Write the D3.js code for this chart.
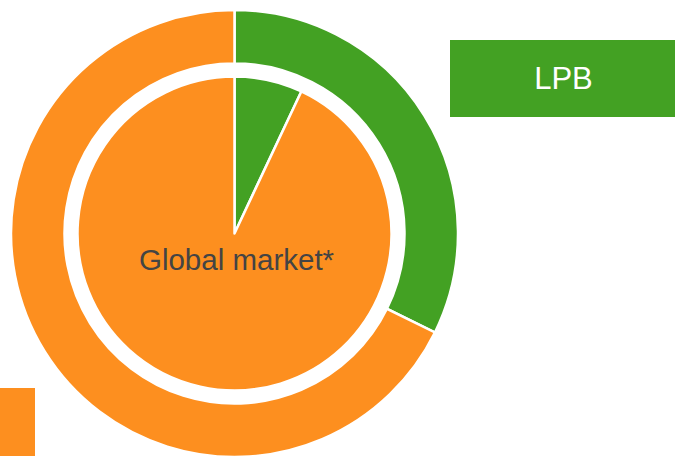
<!DOCTYPE html>
<html lang="en">
<head>
<meta charset="UTF-8" />
<title>LPB vs Global market</title>
<style>
html, body { margin: 0; padding: 0; background: #fff; }
#chart { display: block; }
</style>
</head>
<body>
<svg id="chart" width="675" height="456"></svg>
<script src="https://cdn.jsdelivr.net/npm/d3@7"></script>
<script>
// shares in percent
const categories = ['LPB', 'Other'];
const outerValues = [32.3, 67.7];   // outer ring
const innerValues = [7, 93];        // inner pie, "Global market*"
const colors = ['#43a123', '#fd8f1f'];
const legendLabels = ['LPB', ''];

const svg = d3.select('#chart');
const cx = 234.5, cy = 233.5;

const color = d3.scaleOrdinal().domain(categories).range(colors);
const pie = d3.pie().sort(null).value(d => d.v);

const g = svg.append('g').attr('transform', `translate(${cx},${cy})`);

const outerArc = d3.arc().innerRadius(170).outerRadius(223.5);
const innerArc = d3.arc().innerRadius(0).outerRadius(157);

const outerData = categories.map((c, i) => ({ c, v: outerValues[i] }));
const innerData = categories.map((c, i) => ({ c, v: innerValues[i] }));

g.append('g').selectAll('path')
  .data(pie(outerData))
  .join('path')
  .attr('d', outerArc)
  .attr('fill', d => color(d.data.c))
  .attr('stroke', '#fff')
  .attr('stroke-width', 2.5);

g.append('g').selectAll('path')
  .data(pie(innerData))
  .join('path')
  .attr('d', innerArc)
  .attr('fill', d => color(d.data.c))
  .attr('stroke', '#fff')
  .attr('stroke-width', 2.5)
  .attr('stroke-linejoin', 'round');

g.append('text')
  .attr('x', 2)
  .attr('y', 36)
  .attr('text-anchor', 'middle')
  .attr('font-family', 'Liberation Sans, Arial, sans-serif')
  .attr('font-size', 29.5)
  .attr('fill', '#444')
  .text('Global market*');

// legend boxes
const legendPos = [
  { x: 450, y: 40, w: 230, h: 77 },
  { x: -10, y: 388, w: 45, h: 77 }
];
const leg = svg.append('g').selectAll('g')
  .data(categories.map((c, i) => ({ c, label: legendLabels[i], p: legendPos[i] })))
  .join('g');
leg.append('rect')
  .attr('x', d => d.p.x).attr('y', d => d.p.y)
  .attr('width', d => d.p.w).attr('height', d => d.p.h)
  .attr('fill', d => color(d.c));
leg.append('text')
  .attr('x', d => d.p.x + 113.5)
  .attr('y', d => d.p.y + 48.5)
  .attr('text-anchor', 'middle')
  .attr('font-family', 'Liberation Sans, Arial, sans-serif')
  .attr('font-size', 31)
  .attr('fill', '#fff')
  .text(d => d.label);
</script>
</body>
</html>
